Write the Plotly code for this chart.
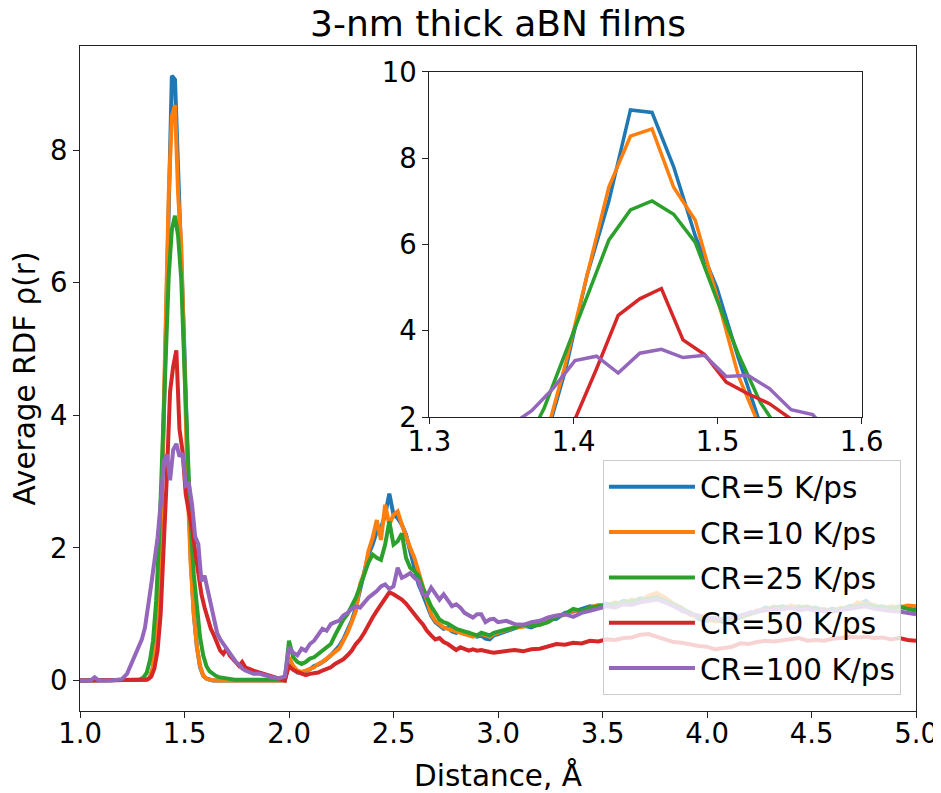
import plotly.graph_objects as go

# ---------------- data ----------------
# distance grids (Å)
r_head = [1.0, 1.05, 1.07, 1.09, 1.15, 1.2, 1.225]
r_peak_a = [1.2445, 1.2595, 1.2745, 1.2895, 1.3045, 1.3195, 1.3345, 1.3495, 1.3645, 1.3795,
            1.3945, 1.4095, 1.4245, 1.4395, 1.4545, 1.4695, 1.4845, 1.4995, 1.5145, 1.5295,
            1.5445, 1.5595, 1.5745, 1.5895, 1.6045, 1.6195, 1.6345, 1.6495, 1.6645, 1.6795,
            1.6945, 1.7095, 1.7245, 1.7395, 1.7545, 1.7695, 1.7845]
r_peak_b = [1.251, 1.266, 1.281, 1.296, 1.311, 1.326, 1.341, 1.356, 1.371, 1.386,
            1.401, 1.416, 1.431, 1.446, 1.461, 1.476, 1.491, 1.506, 1.521, 1.536,
            1.551, 1.566, 1.581, 1.596, 1.611, 1.626, 1.641, 1.656, 1.671, 1.686,
            1.701, 1.716, 1.731, 1.746, 1.761, 1.776, 1.791]
r_tail = [1.83, 1.86, 1.89, 1.92, 1.95, 1.98,
          2.00, 2.02, 2.04, 2.06, 2.08, 2.10, 2.12, 2.14, 2.16, 2.18,
          2.20, 2.22, 2.24, 2.26, 2.28, 2.30, 2.32, 2.34, 2.36, 2.38,
          2.40, 2.42, 2.44, 2.46, 2.48, 2.50, 2.52, 2.54, 2.56, 2.58,
          2.60, 2.62, 2.64, 2.66, 2.68, 2.70, 2.72, 2.74, 2.76, 2.78,
          2.80, 2.82, 2.84, 2.86, 2.88, 2.90, 2.92, 2.94, 2.96, 2.98, 3.00,
          3.04, 3.08, 3.12, 3.16, 3.20, 3.24, 3.28, 3.32, 3.36, 3.40,
          3.44, 3.48, 3.52, 3.56, 3.60, 3.64, 3.68, 3.72, 3.76, 3.80,
          3.84, 3.88, 3.92, 3.96, 4.00, 4.04, 4.08, 4.12, 4.16, 4.20,
          4.24, 4.28, 4.32, 4.36, 4.40, 4.44, 4.48, 4.52, 4.56, 4.60,
          4.64, 4.68, 4.72, 4.76, 4.80, 4.84, 4.88, 4.92, 4.96, 5.00]

r_a = r_head + r_peak_a + r_tail
r_b = r_head + r_peak_b + r_tail

cr5 = ([0, 0, 0, 0, 0, 0, 0] +
       [0, 0, 0, 0, 0, 0.01, 0.05, 0.2, 0.6, 1.35,
        3.1, 5.3, 7.0, 9.12, 9.06, 7.8, 6.2, 5.0, 3.36, 1.85,
        1.0, 0.5, 0.2, 0.07, 0.03, 0.01, 0, 0, 0, 0,
        0, 0, 0, 0, 0, 0, 0] +
       [0, 0, 0, 0, 0, 0] +
       [0.30, 0.18, 0.12, 0.12, 0.14, 0.17, 0.22, 0.24, 0.28, 0.32,
        0.38, 0.45, 0.52, 0.62, 0.75, 0.90, 1.10, 1.35, 1.65, 1.90,
        2.05, 2.25, 2.30, 2.50, 2.82, 2.50, 2.45, 2.35, 2.20, 1.95,
        1.75, 1.45, 1.30, 1.15, 0.98, 0.88, 0.82, 0.78, 0.80, 0.74,
        0.72, 0.75, 0.70, 0.72, 0.68, 0.66, 0.68, 0.63, 0.62, 0.68,
        0.70] +
       [0.74, 0.78, 0.83, 0.80, 0.86, 0.92, 0.93, 1.02, 1.04, 1.08,
        1.12, 1.10, 1.16, 1.13, 1.20, 1.18, 1.24, 1.22, 1.30, 1.20,
        1.14, 1.05, 1.02, 0.93, 0.90, 0.92, 0.88, 0.94, 0.96, 1.02,
        1.04, 1.10, 1.08, 1.12, 1.09, 1.12, 1.08, 1.10, 1.05, 1.08,
        1.06, 1.12, 1.14, 1.20, 1.10, 1.12, 1.08, 1.12, 1.09, 1.10])

cr10 = ([0, 0, 0, 0, 0, 0, 0] +
        [0, 0, 0, 0, 0, 0.01, 0.05, 0.2, 0.6, 1.4,
         3.24, 5.3, 7.33, 8.51, 8.68, 7.33, 6.56, 4.8, 2.95, 1.75,
         1.0, 0.5, 0.22, 0.08, 0.03, 0.01, 0, 0, 0, 0,
         0, 0, 0, 0, 0, 0, 0] +
        [0, 0, 0, 0, 0, 0] +
        [0.35, 0.22, 0.15, 0.13, 0.15, 0.18, 0.20, 0.25, 0.28, 0.33,
         0.38, 0.42, 0.48, 0.60, 0.72, 0.88, 1.05, 1.45, 1.62, 1.95,
         2.15, 2.42, 2.12, 2.65, 2.35, 2.50, 2.55, 2.35, 2.15, 2.00,
         1.85, 1.65, 1.40, 1.20, 1.00, 0.90, 0.85, 0.80, 0.78, 0.76,
         0.74, 0.72, 0.70, 0.68, 0.66, 0.68, 0.70, 0.68, 0.66, 0.70,
         0.72] +
        [0.76, 0.80, 0.81, 0.85, 0.84, 0.90, 0.97, 0.99, 1.06, 1.04,
         1.10, 1.14, 1.13, 1.18, 1.16, 1.22, 1.20, 1.28, 1.32, 1.25,
         1.16, 1.10, 0.99, 0.96, 0.92, 0.89, 0.92, 0.90, 0.97, 0.99,
         1.06, 1.06, 1.12, 1.08, 1.13, 1.10, 1.12, 1.06, 1.08, 1.04,
         1.10, 1.08, 1.18, 1.16, 1.14, 1.08, 1.12, 1.10, 1.13, 1.12])

cr25 = ([0, 0, 0, 0, 0, 0, 0] +
        [0, 0, 0.01, 0.02, 0.05, 0.12, 0.3, 0.6, 1.2, 2.2,
         3.5, 4.85, 6.1, 6.8, 7.01, 6.7, 6.05, 4.72, 3.45, 2.35,
         1.6, 1.05, 0.65, 0.38, 0.22, 0.14, 0.10, 0.07, 0.05, 0.04,
         0.03, 0.02, 0.02, 0.01, 0.01, 0.01, 0.01] +
        [0.01, 0.01, 0.01, 0.01, 0.01, 0.01] +
        [0.60, 0.35, 0.28, 0.25, 0.28, 0.33, 0.35, 0.40, 0.45, 0.50,
         0.55, 0.68, 0.80, 0.92, 1.00, 1.12, 1.25, 1.42, 1.62, 1.78,
         1.90, 1.85, 1.82, 2.05, 2.40, 2.05, 2.10, 2.22, 1.85, 1.70,
         1.65, 1.58, 1.40, 1.25, 1.12, 1.02, 0.92, 0.88, 0.86, 0.82,
         0.78, 0.76, 0.74, 0.72, 0.70, 0.68, 0.72, 0.70, 0.68, 0.72,
         0.74] +
        [0.77, 0.80, 0.84, 0.82, 0.84, 0.88, 0.96, 1.00, 1.08, 1.05,
         1.10, 1.12, 1.14, 1.16, 1.17, 1.20, 1.21, 1.24, 1.25, 1.20,
         1.15, 1.08, 1.02, 0.96, 0.94, 0.92, 0.91, 0.92, 0.95, 1.00,
         1.04, 1.07, 1.10, 1.11, 1.09, 1.10, 1.11, 1.08, 1.07, 1.05,
         1.08, 1.10, 1.13, 1.15, 1.12, 1.10, 1.09, 1.11, 1.08, 1.05])

cr50 = ([0, 0, 0, 0, 0, 0, 0] +
        [0, 0, 0, 0, 0.01, 0.02, 0.06, 0.18, 0.45, 1.0,
         1.95, 3.12, 4.36, 4.74, 4.98, 3.79, 3.45, 2.81, 2.54, 2.31,
         1.95, 1.60, 1.30, 1.10, 0.92, 0.78, 0.68, 0.55, 0.45, 0.40,
         0.48, 0.38, 0.33, 0.28, 0.22, 0.28, 0.20] +
        [0.15, 0.12, 0.08, 0.05, 0.02, 0.0] +
        [0.22, 0.16, 0.13, 0.10, 0.08, 0.10, 0.11, 0.12, 0.15, 0.17,
         0.20, 0.25, 0.28, 0.32, 0.38, 0.45, 0.55, 0.62, 0.72, 0.85,
         0.95, 1.05, 1.15, 1.25, 1.33, 1.30, 1.26, 1.22, 1.16, 1.08,
         0.98, 0.92, 0.85, 0.75, 0.68, 0.62, 0.64, 0.58, 0.55, 0.50,
         0.46, 0.50, 0.48, 0.45, 0.47, 0.45, 0.46, 0.44, 0.43, 0.42,
         0.43] +
        [0.44, 0.46, 0.44, 0.47, 0.48, 0.51, 0.55, 0.54, 0.57, 0.56,
         0.60, 0.59, 0.62, 0.61, 0.64, 0.65, 0.69, 0.70, 0.66, 0.63,
         0.58, 0.57, 0.54, 0.52, 0.51, 0.47, 0.49, 0.51, 0.56, 0.55,
         0.58, 0.60, 0.59, 0.61, 0.62, 0.64, 0.60, 0.61, 0.60, 0.63,
         0.64, 0.66, 0.65, 0.66, 0.64, 0.65, 0.62, 0.64, 0.61, 0.60])

cr100 = ([0, 0, 0.05, 0, 0, 0.02, 0.10] +
         [0.30, 0.40, 0.50, 0.62, 0.80, 1.10, 1.45, 1.80, 2.15, 2.67,
          3.31, 3.41, 3.02, 3.48, 3.57, 3.38, 3.43, 2.94, 2.97, 2.66,
          2.17, 2.06, 1.50, 1.58, 1.35, 1.12, 0.90, 0.72, 0.62, 0.55,
          0.50, 0.42, 0.34, 0.28, 0.24, 0.18, 0.15] +
         [0.10, 0.10, 0.07, 0.05, 0.03, 0.06] +
         [0.50, 0.42, 0.38, 0.48, 0.45, 0.55, 0.60, 0.70, 0.78, 0.75,
          0.85, 0.88, 0.90, 0.98, 1.02, 1.08, 1.12, 1.10, 1.18, 1.25,
          1.30, 1.35, 1.42, 1.45, 1.38, 1.42, 1.70, 1.55, 1.58, 1.62,
          1.55, 1.50, 1.30, 1.28, 1.40, 1.30, 1.22, 1.30, 1.20, 1.12,
          1.15, 1.10, 1.02, 0.98, 0.95, 1.00, 1.00, 0.88, 0.92, 0.93,
          0.88] +
         [0.90, 0.85, 0.84, 0.88, 0.90, 0.95, 0.98, 1.00, 0.96, 1.02,
          1.05, 1.08, 1.12, 1.10, 1.15, 1.14, 1.18, 1.20, 1.22, 1.18,
          1.12, 1.06, 1.00, 0.98, 0.95, 0.94, 0.92, 0.96, 0.98, 1.02,
          1.05, 1.06, 1.08, 1.07, 1.10, 1.06, 1.08, 1.05, 1.06, 1.04,
          1.06, 1.08, 1.10, 1.12, 1.08, 1.06, 1.05, 1.04, 1.02, 1.00])

series_names = ["CR=5 K/ps", "CR=10 K/ps", "CR=25 K/ps", "CR=50 K/ps", "CR=100 K/ps"]
series_r = [r_a, r_a, r_a, r_b, r_b]
series_y = [cr5, cr10, cr25, cr50, cr100]
colors = ["#1f77b4", "#ff7f0e", "#2ca02c", "#d62728", "#9467bd"]

main_xticks = [1.0, 1.5, 2.0, 2.5, 3.0, 3.5, 4.0, 4.5, 5.0]
main_yticks = [0, 2, 4, 6, 8]
inset_xticks = [1.3, 1.4, 1.5, 1.6]
inset_yticks = [2, 4, 6, 8, 10]

# ---------------- figure ----------------
FONT = "DejaVu Sans"
W, H = 933, 785   # the page body adds an 8px offset inside the 941x793 window
fig = go.Figure()

for name, r, y, c in zip(series_names, series_r, series_y, colors):
    fig.add_trace(go.Scatter(x=r, y=y, mode="lines", name=name, legendgroup=name,
                             line=dict(color=c, width=4), xaxis="x", yaxis="y"))
for name, r, y, c in zip(series_names, series_r, series_y, colors):
    fig.add_trace(go.Scatter(x=r, y=y, mode="lines", name=name, legendgroup=name,
                             showlegend=False, line=dict(color=c, width=3.5),
                             xaxis="x2", yaxis="y2"))

axis_common = dict(showgrid=False, zeroline=False, showline=True, linecolor="#222",
                   linewidth=1.2, mirror=True, ticks="outside", ticklen=6, tickwidth=1.2,
                   tickcolor="#222", automargin=False, ticklabeloverflow="allow",
                   tickfont=dict(family=FONT, size=27.5, color="black"))

fig.update_layout(
    width=W, height=H,
    margin=dict(l=72, r=25, t=38, b=82),
    paper_bgcolor="white", plot_bgcolor="white",
    title=dict(text="3-nm thick aBN films", x=0.5, xref="paper", xanchor="center",
               y=1 - 15 / H, yref="container", yanchor="middle",
               font=dict(family=FONT, size=36, color="black")),
    xaxis=dict(range=[1.0, 5.0], tickvals=main_xticks, tickformat=".1f",
               ticklabelstandoff=-8,
               title=dict(text="Distance, Å", font=dict(family=FONT, size=29.5, color="black"),
                          standoff=20),
               **axis_common),
    yaxis=dict(range=[-0.46, 9.57], tickvals=main_yticks,
               title=dict(text="Average RDF ρ(r)", font=dict(family=FONT, size=29.5, color="black"),
                          standoff=6),
               **axis_common),
    xaxis2=dict(domain=[0.418, 0.935], anchor="y2", range=[1.3, 1.6], tickvals=inset_xticks,
                tickformat=".1f", ticklabelstandoff=-6, **axis_common),
    yaxis2=dict(domain=[0.442, 0.961], anchor="x2", range=[2, 10], tickvals=inset_yticks,
                **axis_common),
    legend=dict(x=0.982, xanchor="right", y=0.024, yanchor="bottom",
                bgcolor="rgba(255,255,255,0.8)", bordercolor="#cccccc", borderwidth=1,
                font=dict(family=FONT, size=29.5, color="black"),
                tracegroupgap=4, itemwidth=86),
    showlegend=True,
)

fig.write_html("out.html")
